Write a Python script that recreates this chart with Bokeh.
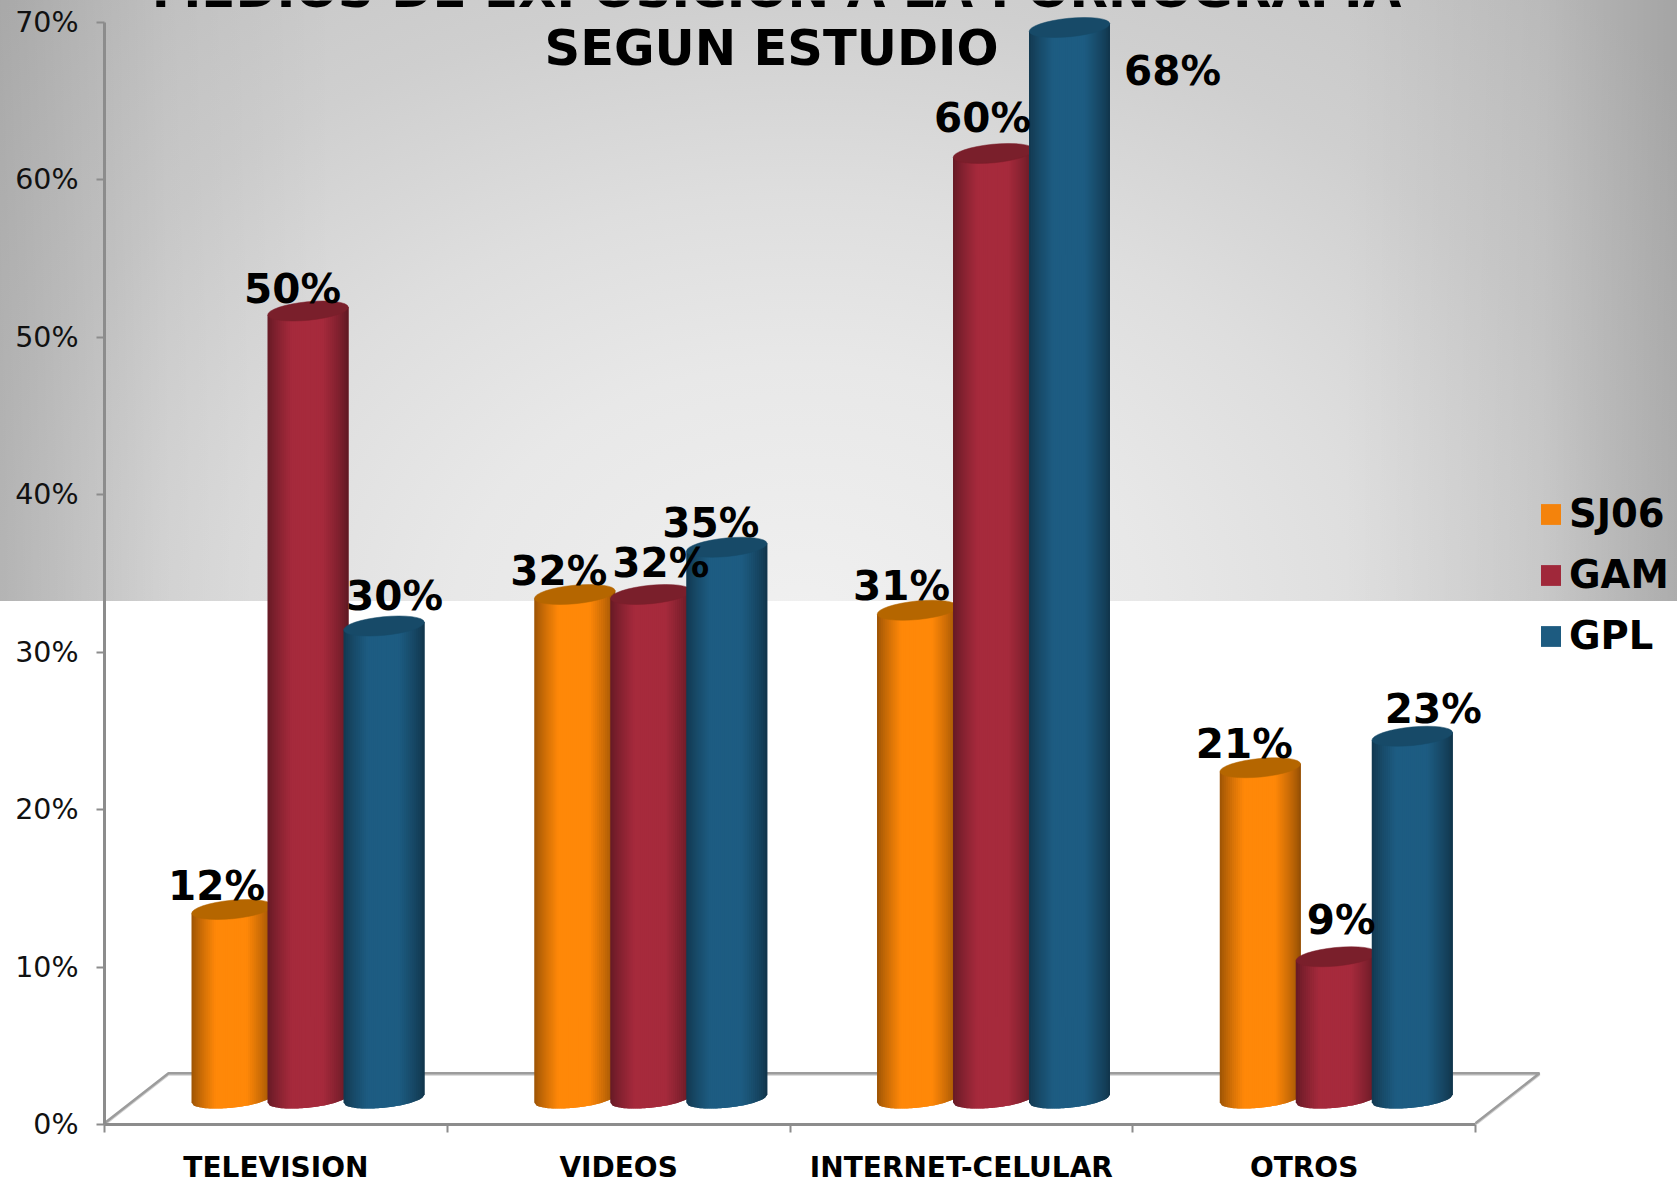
import math
from bokeh.embed import file_html
from bokeh.resources import INLINE
from bokeh.plotting import figure
from bokeh.models import (ColumnDataSource, FixedTicker, Label, Legend, LegendItem,
                          PrintfTickFormatter)
from bokeh.core.properties import value

# ---- data ----
categories = ["TELEVISION", "VIDEOS", "INTERNET-CELULAR", "OTROS"]
SJ06 = [12, 32, 31, 21]
GAM = [50, 32, 60, 9]
GPL = [30, 35, 68, 23]
series_names = ["SJ06", "GAM", "GPL"]
y_ticks = [0, 10, 20, 30, 40, 50, 60, 70]
title_lines = ["MEDIOS DE EXPOSICION A LA PORNOGRAFIA", "SEGUN ESTUDIO"]

# ---- style ----
W, H = 1677, 1181
AX_L, AX_B = 104, 1124          # pixel position of the origin
PX_PER_CAT, PX_PER_PCT = 342.75, 15.75
body_colors = [(255, 136, 8), (166, 42, 60), (29, 92, 130)]
top_colors = ["#B56600", "#7A1F2B", "#174A68"]
legend_colors = ["#F4830C", "#A0283A", "#1D5B80"]
# per-label offsets (px) from the centre of the cylinder top
label_dx = [[-15.5, -15.5, 10.5], [-16, 10, -16], [-16, -11, 103], [-16, 5, 21]]
label_dy = [[-24, -22.5, -30.5], [-24, -32, -24], [-24, -36, 43], [-24, -37, -27]]

dx_unit = 1 / PX_PER_CAT
dy_unit = 1 / PX_PER_PCT

EXTRA = 5  # the x axis panel needs 62 px; the excess hangs below the page without scrolling
p = figure(width=W, height=H + EXTRA, output_backend="svg", toolbar_location=None,
           x_range=(0, (W - AX_L) * dx_unit), y_range=(0, AX_B * dy_unit),
           min_border_left=AX_L, min_border_right=0, min_border_top=0,
           min_border_bottom=H - AX_B, margin=(0, 0, -EXTRA, 0),
           border_fill_color=None, background_fill_color=None, outline_line_color=None)
p.styles = {
    "background-image": "linear-gradient(90deg, rgba(0,0,0,.14) 0%, rgba(0,0,0,.04) 10%, rgba(0,0,0,0) 20%, "
                        "rgba(0,0,0,0) 80%, rgba(0,0,0,.06) 92%, rgba(0,0,0,.16) 100%), "
                        "radial-gradient(ellipse 1150px 850px at 800px 620px, #f0f0f0 0%, #e8e8e8 30%, "
                        "#dedede 50%, #cfcfcf 73%, #c4c4c4 100%)",
    "background-size": "100% 601px",
    "background-repeat": "no-repeat",
}
p.grid.visible = False

# axes
AX_COL = "#8C8C8C"
ya = p.yaxis[0]
ya.ticker = FixedTicker(ticks=y_ticks)
ya.formatter = PrintfTickFormatter(format="%d%%")
ya.bounds = (0, 70)
ya.axis_line_color = AX_COL
ya.axis_line_width = 3
ya.major_tick_line_color = AX_COL
ya.major_tick_line_width = 2
ya.major_tick_out = 8
ya.major_tick_in = 0
ya.minor_tick_line_color = None
ya.major_label_standoff = 18
ya.major_label_text_font = "DejaVu Sans"
ya.major_label_text_font_size = "28.5px"
ya.major_label_text_color = "#111111"

n = len(categories)
xa = p.xaxis[0]
xa.ticker = FixedTicker(ticks=[i + 0.5 for i in range(n)], minor_ticks=list(range(n + 1)))
xa.major_label_overrides = {i + 0.5: c for i, c in enumerate(categories)}
xa.bounds = (0, n)
xa.axis_line_color = AX_COL
xa.axis_line_width = 3
xa.major_tick_line_color = None
xa.major_tick_out = 0
xa.major_tick_in = 0
xa.minor_tick_line_color = AX_COL
xa.minor_tick_line_width = 2
xa.minor_tick_out = 8
xa.minor_tick_in = 0
xa.major_label_standoff = 18
xa.major_label_text_font = "DejaVu Sans"
xa.major_label_text_font_style = "bold"
xa.major_label_text_font_size = "28px"
xa.major_label_text_color = "#000000"

# floor in fake 3D
depth_x, depth_y = 64 * dx_unit, 50 * dy_unit
p.line([0, depth_x, n + depth_x, n], [0, depth_y, depth_y, 0],
       line_color="#D2D2D2", line_width=2.5)
p.line([0, depth_x, n + depth_x, n], [0.08, depth_y + 0.08, depth_y + 0.08, 0.08],
       line_color="#9C9C9C", line_width=2.5)

# cylinders
GROUP_CX = 203.5 * dx_unit
SPACING = 76 * dx_unit
BAR_W = 81 * dx_unit
BASE_Y = 26 * dy_unit
ELL_H_PX = 18.5
TILT_PX = 4.0
TILT_ANGLE = math.atan2(2 * TILT_PX, 81)
N_STRIPS = 40


def shade(rgb, u):
    c = max(0.0, 1 - abs(u + 0.02))
    f = 0.58 + 0.42 * min(1.0, (c / 0.62)) ** 0.8
    return "#%02x%02x%02x" % tuple(int(round(v * f)) for v in rgb)


series = [SJ06, GAM, GPL]
legend_items = []
lx, ly, ltxt, ldx, ldy = [], [], [], [], []
for i in range(n):
    for s in range(3):
        v = series[s][i]
        cx = i + GROUP_CX + (s - 1) * SPACING
        top = v + BASE_Y
        xs, ys, cols = [], [], []
        for k in range(N_STRIPS):
            u0 = -1 + 2 * k / N_STRIPS
            um = -1 + 2 * (k + 1) / N_STRIPS
            u1 = min(1.0, -1 + 2 * (k + 2) / N_STRIPS)  # overlap the next strip: no seams
            px, py_b, py_t = [], [], []
            for u in (u0, um, u1):
                px.append(cx + u * BAR_W / 2)
                tilt = u * TILT_PX * dy_unit
                py_b.append(BASE_Y + tilt - ELL_H_PX / 2 * dy_unit * math.sqrt(max(0, 1 - u * u)))
                py_t.append(top + tilt)
            xs.append(px + px[::-1])
            ys.append(py_b + py_t[::-1])
            cols.append(shade(body_colors[s], (u0 + um) / 2))
        p.patches(xs, ys, fill_color=cols, line_color=None)
        p.ellipse(x=[cx], y=[top], width=81, height=ELL_H_PX, angle=TILT_ANGLE,
                  width_units="screen", height_units="screen",
                  fill_color=top_colors[s], line_color=top_colors[s], line_width=0.5)
        lx.append(cx)
        ly.append(top)
        ltxt.append("%d%%" % v)
        ldx.append(label_dx[i][s])
        ldy.append(label_dy[i][s])

# value labels
src = ColumnDataSource(dict(x=lx, y=ly, t=ltxt, dx=ldx, dy=ldy))
p.text(x="x", y="y", text="t", x_offset="dx", y_offset="dy", source=src,
       text_font=value("DejaVu Sans"), text_font_style="bold", text_font_size="40.5px",
       text_color="#000000", text_align="center", text_baseline="middle")

# title (first line runs off the top of the page, as in the reference)
title_y = [(AX_B + 11) * dy_unit, (AX_B - 47) * dy_unit]
title_x = [(776 - AX_L) * dx_unit, (771 - AX_L) * dx_unit]
title_sizes = ["49.9px", "49.5px"]
for t, tx, ty, fs in zip(title_lines, title_x, title_y, title_sizes):
    p.add_layout(Label(x=tx, y=ty, text=t, text_font="DejaVu Sans", text_font_style="bold",
                       text_font_size=fs, text_color="#000000", text_align="center",
                       text_baseline="alphabetic"))

# legend
nan = float("nan")
for s, name in enumerate(series_names):
    r = p.quad(left=[nan], right=[nan], top=[nan], bottom=[nan],
               fill_color=legend_colors[s], line_color=None)
    legend_items.append(LegendItem(label=name, renderers=[r]))
leg = Legend(items=legend_items, location=(1434, AX_B - 658), orientation="vertical",
             background_fill_alpha=0, border_line_color=None, padding=0, margin=0,
             glyph_width=25, glyph_height=26, label_standoff=6, spacing=16,
             label_text_font="DejaVu Sans", label_text_font_style="bold",
             label_text_font_size="38.5px", label_text_color="#000000")
p.add_layout(leg, "center")

open("out.html", "w").write(file_html(p, INLINE))
